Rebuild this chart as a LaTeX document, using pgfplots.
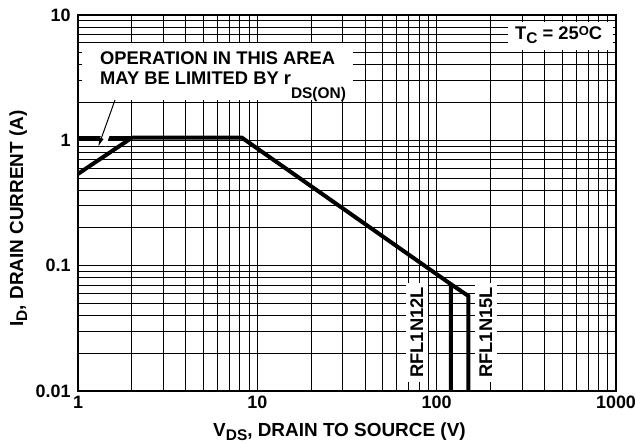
\documentclass[border=0pt]{standalone}
\usepackage{fontspec}
\setmainfont{Liberation Sans}
\usepackage{pgfplots}
\pgfplotsset{compat=1.18}
\usetikzlibrary{arrows.meta}
\newcommand\sub[1]{\raisebox{-4bp}{\fontsize{15.5}{15}\selectfont #1}}
\newcommand\subl[1]{\raisebox{-14bp}{\fontsize{15.5}{15}\selectfont #1}}
\newcommand\supo[1]{\raisebox{4bp}{\fontsize{13}{13}\selectfont #1}}
\begin{document}
\begin{tikzpicture}[x=1bp,y=1bp]
\path[use as bounding box] (-78,-52) rectangle (557,391);
\begin{axis}[
  at={(0,0)}, anchor=south west,
  scale only axis, width=538bp, height=376bp,
  xmode=log, ymode=log,
  xmin=1, xmax=1000, ymin=0.01, ymax=10,
  xtick={1,10,100,1000}, xticklabels={1,10,100,1000},
  ytick={0.01,0.1,1,10}, yticklabels={0.01,0.1,1,10},
  grid=both,
  major grid style={black, line width=1bp},
  minor grid style={black, line width=1bp},
  axis line style={black, line width=1.3bp},
  tick style={black, line width=1bp},
  major tick length=3bp, minor tick length=3bp,
  tick label style={font=\fontsize{18}{18}\selectfont\bfseries},
  xticklabel style={yshift=-1.5bp},
  yticklabel style={xshift=-4bp},
  label style={font=\fontsize{19}{21}\selectfont\bfseries},
  xlabel={V\sub{DS}, DRAIN TO SOURCE (V)},
  ylabel={I\sub{D}, DRAIN CURRENT (A)},
  xlabel style={at={(axis description cs:0.486,-0.1223)}, anchor=base},
  ylabel style={at={(axis description cs:-0.1022,0.459)}, anchor=base},
]
\addplot[black, line width=4bp, line join=miter] coordinates {(1,0.54) (2,1.05) (8.2,1.05) (120,0.0712) (120,0.01)};
\addplot[black, line width=4bp, line join=miter] coordinates {(120,0.0712) (150,0.0574) (150,0.01)};
\addplot[black, line width=4bp] coordinates {(1,1.05) (2,1.05)};
\end{axis}
\fill[white] (4,291) rectangle (275,348);
\node[anchor=base west, inner sep=0pt, font=\fontsize{18.4}{21}\selectfont\bfseries] at (22,326) {OPERATION IN THIS AREA};
\node[anchor=base west, inner sep=0pt, font=\fontsize{18.4}{21}\selectfont\bfseries] at (22,306) {MAY BE LIMITED BY r\subl{DS(ON)}};
\fill[white] (430,341) rectangle (535,369);
\node[anchor=base west, inner sep=0pt, font=\fontsize{18.4}{21}\selectfont\bfseries] at (437,351) {T\sub{C} = 25\supo{O}C};
\node[rotate=90, fill=white, inner sep=4.5bp, text height=13bp, text depth=0bp, font=\fontsize{18.4}{21}\selectfont\bfseries] at (338.5,58.5) {RFL1N12L};
\node[rotate=90, fill=white, inner sep=4.5bp, text height=13bp, text depth=0bp, font=\fontsize{18.4}{21}\selectfont\bfseries] at (407.5,58.5) {RFL1N15L};
\draw[white, line width=8bp] (28.9,260) -- (23.9,246);
\draw[-{Latex[length=9bp,width=5bp]}, line width=1bp] (37,291) -- (20.3,244.3);
\end{tikzpicture}
\end{document}
